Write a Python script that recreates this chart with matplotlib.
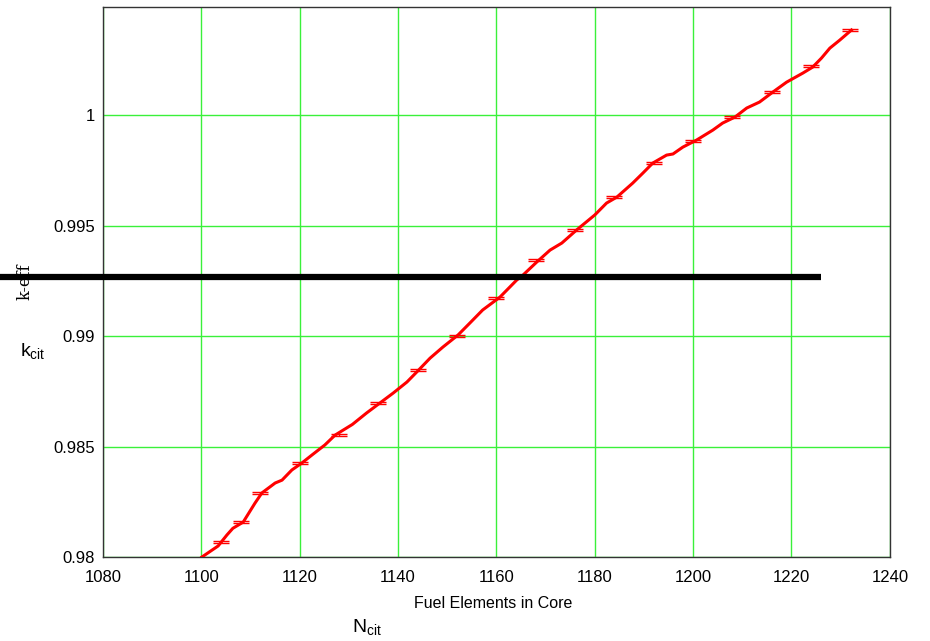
import numpy as np
import matplotlib.pyplot as plt

# k-eff versus number of fuel elements
n_elem = [1100.1, 1103.4, 1105.2, 1106.4, 1108.5, 1110.9, 1112.3, 1115.0, 1116.4, 1118.4,
          1120.4, 1122.5, 1125.1, 1127.2, 1130.7, 1133.6, 1136.3, 1139.0, 1141.8, 1144.0,
          1146.5, 1149.1, 1152.2, 1154.6, 1157.2, 1160.7, 1164.1, 1165.4, 1168.2, 1170.9,
          1173.3, 1176.3, 1180.0, 1182.4, 1184.5, 1187.7, 1189.8, 1191.8, 1194.6, 1195.9,
          1197.9, 1200.7, 1204.0, 1206.0, 1208.5, 1210.9, 1213.5, 1216.2, 1219.0, 1222.3,
          1224.3, 1226.1, 1227.8, 1229.8, 1232.2]
k_eff = [0.98000, 0.98050, 0.98100, 0.98130, 0.98158, 0.98244, 0.98290, 0.98335, 0.98348, 0.98394,
         0.98425, 0.98462, 0.98507, 0.98552, 0.98600, 0.98652, 0.98697, 0.98742, 0.98792, 0.98842,
         0.98900, 0.98950, 0.99005, 0.99059, 0.99118, 0.99176, 0.99253, 0.99276, 0.99335, 0.99389,
         0.99421, 0.99480, 0.99548, 0.99602, 0.99629, 0.99692, 0.99738, 0.99783, 0.99819, 0.99824,
         0.99855, 0.99887, 0.99932, 0.99964, 0.99991, 1.00032, 1.00059, 1.00104, 1.00149, 1.00190,
         1.00217, 1.00258, 1.00303, 1.00339, 1.00385]

# points with error bars
n_err = [1104, 1108, 1112, 1120, 1128, 1136, 1144, 1152, 1160, 1168, 1176, 1184, 1192,
         1200, 1208, 1216, 1224, 1232]
k_err = [0.98068, 0.98158, 0.98290, 0.98425, 0.98552, 0.98697, 0.98846, 0.99000, 0.99172,
         0.99344, 0.99480, 0.99629, 0.99783, 0.99882, 0.99991, 1.00104, 1.00222, 1.00385]
sigma = 0.00004

k_crit = 0.99267
crit_x = [1059.0, 1226.1]

plt.rcParams['font.family'] = ['Liberation Sans', 'DejaVu Sans']
plt.rcParams['mathtext.fontset'] = 'custom'
plt.rcParams['mathtext.rm'] = 'Liberation Sans'

fig = plt.figure(figsize=(9.3, 6.41), dpi=100)
ax = fig.add_axes([0.1108, 0.131, 0.846, 0.858])

ax.plot(n_elem, k_eff, color='red', lw=2.2, zorder=4)
ax.errorbar(n_err, k_err, yerr=sigma, fmt='none', ecolor='red', elinewidth=1,
            capsize=6, capthick=1, zorder=4)

# critical k-eff line, runs off the left of the axes
ax.plot(crit_x, [k_crit, k_crit], color='black', lw=4.5, clip_on=False, zorder=5,
        solid_capstyle='butt')

ax.set_xlim(1080, 1240)
ax.set_ylim(0.98, 1.00489)
ax.set_xticks(np.arange(1080, 1241, 20))
ax.set_yticks([0.98, 0.985, 0.99, 0.995, 1.0])
ax.set_yticklabels(['0.98', '0.985', '0.99', '0.995', '1'])
ax.tick_params(length=0, labelsize=12)
ax.tick_params(axis='x', pad=9)
ax.tick_params(axis='y', pad=6)
ax.grid(True, color='#3af03a', lw=1)
ax.set_axisbelow(True)
for s in ax.spines.values():
    s.set_color('#333333')
    s.set_linewidth(1)

fig.text(493/930, 1 - 603/641, 'Fuel Elements in Core', ha='center', va='center', fontsize=11.5)
fig.text(367/930, 1 - 628/641, r'N$_{\mathrm{cit}}$', ha='center', va='center', fontsize=14)
fig.text(33/930, 1 - 352/641, r'k$_{\mathrm{cit}}$', ha='center', va='center', fontsize=14)
fig.text(25/930, 1 - 282/641, 'k-eff', ha='center', va='center', fontsize=11.5,
         rotation=90, family='DejaVu Serif')

fig.savefig('out.png', dpi=100)
